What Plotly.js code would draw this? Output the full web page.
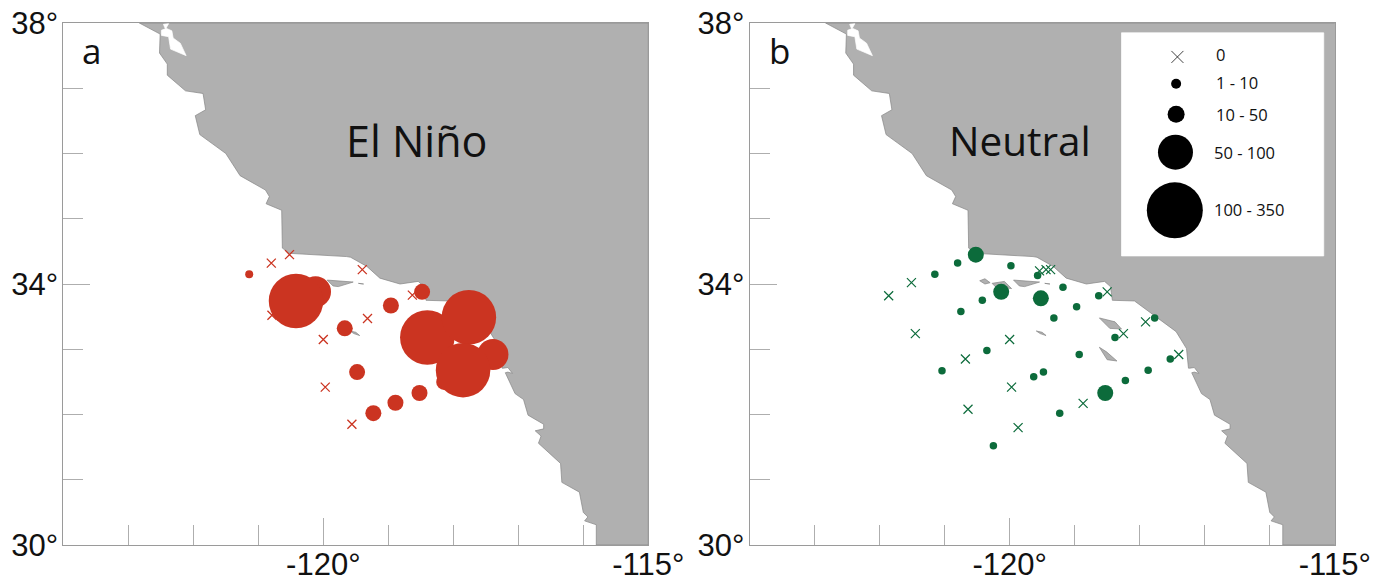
<!DOCTYPE html>
<html>
<head>
<meta charset="utf-8">
<script src="https://cdn.plot.ly/plotly-3.0.0.min.js"></script>
<style>html,body{margin:0;padding:0;background:#fff}#c{width:1385px;height:582px}</style>
</head>
<body>
<div id="c"></div>
<script>
// Land outline
const coastLon = [-122.83,-122.51,-122.52,-122.40,-122.40,-122.12,-121.85,-121.81,-121.97,-121.90,-121.50,-121.28,-120.89,-120.83,-120.88,-120.64,-120.63,-120.52,-119.64,-119.58,-119.33,-119.13,-118.82,-118.54,-118.45,-118.42,-118.08,-117.69,-117.44,-117.28,-117.25,-117.23,-117.16,-117.09,-117.16,-117.20,-117.05,-116.92,-116.85,-116.61,-116.61,-116.74,-116.65,-116.69,-116.35,-116.33,-116.06,-116.00,-115.93,-115.98,-115.80,-115.80,-115,-115,-122.83];
const coastLat = [38,37.83,37.54,37.37,37.20,36.96,36.92,36.67,36.58,36.29,36.00,35.66,35.44,35.34,35.23,35.13,34.55,34.47,34.42,34.41,34.27,34.09,34.00,34.04,33.96,33.75,33.74,33.45,33.27,33.01,32.71,32.71,32.72,32.63,32.65,32.64,32.32,32.23,31.99,31.85,31.78,31.75,31.67,31.56,31.25,30.96,30.81,30.50,30.43,30.37,30.31,30,30,38,38];
const bayLon = [-122.49,-122.43,-122.46,-122.38,-122.42,-122.33,-122.31,-122.20,-122.11,-122.35,-122.38,-122.49,-122.49];
const bayLat = [37.89,37.91,37.98,37.99,37.92,37.88,37.77,37.69,37.50,37.60,37.79,37.81,37.89];
const islandLon = [
  [-120.46,-120.38,-120.30,-120.38,-120.46],
  [-120.27,-120.08,-119.97,-120.22,-120.27],
  [-119.94,-119.54,-119.77,-119.85,-119.94],
  [-119.46,-119.38,-119.46],
  [-119.59,-119.50,-119.44,-119.53,-119.59],
  [-118.62,-118.38,-118.28,-118.46,-118.62],
  [-118.62,-118.51,-118.35,-118.50,-118.62]];
const islandLat = [
  [34.05,34.08,34.02,34.00,34.05],
  [34.01,34.04,33.93,33.96,34.01],
  [34.06,34.03,33.96,33.97,34.06],
  [34.01,34.00,34.01],
  [33.28,33.26,33.21,33.24,33.28],
  [33.48,33.42,33.31,33.32,33.48],
  [33.03,32.96,32.82,32.84,33.03]];

// El Nino stations, grouped by abundance class
const ninoZeroLon = [-120.52,-120.80,-119.40,-118.63,-119.32,-120.00,-119.97,-119.56,-120.79];
const ninoZeroLat = [34.45,34.32,34.22,33.83,33.47,33.15,32.42,31.85,33.52];
const ninoLowLon = [-121.14];
const ninoLowLat = [34.15];
const ninoMidLon = [-119.67,-118.96,-118.48,-119.48,-118.52,-118.89,-119.23,-118.14];
const ninoMidLat = [33.32,33.67,33.88,32.65,32.33,32.18,32.02,32.50];
const ninoHighLon = [-120.12,-117.39];
const ninoHighLat = [33.88,32.92];
const ninoTopLon = [-120.42,-118.40,-117.76,-117.85];
const ninoTopLat = [33.74,33.18,33.49,32.68];

// Neutral stations
const neutZeroLon = [-121.86,-121.51,-121.45,-120.68,-120.00,-119.97,-120.64,-119.87,-118.87,-119.54,-119.44,-119.37,-118.50,-118.25,-117.91,-117.40];
const neutZeroLat = [33.82,34.02,33.24,32.85,33.15,32.42,32.08,31.80,32.17,34.20,34.22,34.22,33.88,33.24,33.42,32.92];
const neutLowLon = [-121.15,-120.80,-119.98,-119.57,-119.18,-118.63,-120.42,-120.75,-118.97,-119.32,-117.77,-118.38,-120.35,-118.93,-121.04,-119.63,-119.48,-117.53,-117.87,-118.22,-119.23,-120.25];
const neutLowLat = [34.15,34.32,34.28,34.13,33.95,33.82,33.75,33.58,33.65,33.48,33.48,33.18,32.98,32.92,32.67,32.58,32.65,32.85,32.68,32.52,32.02,31.52];
const neutMidLon = [-120.52,-120.13,-119.52,-118.53];
const neutMidLat = [34.45,33.88,33.78,32.33];

// Legend
const legendLabels = ['0','1 - 10','10 - 50','50 - 100','100 - 350'];
const legendLon = [-117.42,-117.44,-117.44,-117.45,-117.46];
const legendLat = [37.48,37.07,36.60,36.02,35.13];
const legendBoxLon = [-118.28,-115.17,-115.17,-118.28,-118.28];
const legendBoxLat = [37.85,37.85,34.43,34.43,37.85];

const xTicks = [-120,-115];
const xTickText = ['-120°','-115°'];
const xMinor = [-123,-122,-121,-119,-118,-117,-116];
const yTicks = [30,34,38];
const yTickText = ['30°','34°','38°'];
const yMinor = [31,32,33,35,36,37];

const LAND='#b0b0b0', EDGE='#858585', RED='#cb3421', GREEN='#0c6b3b', AX='#9a9a9a';
const SANS='"Open Sans", sans-serif', TICKF='"Liberation Sans", Arial, sans-serif';
const W=1385, H=582;

function poly(x,y,xa,ya,fill,line){
  return {type:'scatter',mode:'lines',x:x,y:y,xaxis:xa,yaxis:ya,fill:'toself',fillcolor:fill,
    line:{color:line,width:0.7},hoverinfo:'skip'};
}
function pts(x,y,xa,ya,color,size){
  return {type:'scatter',mode:'markers',x:x,y:y,xaxis:xa,yaxis:ya,hoverinfo:'skip',
    marker:{symbol:'circle',color:color,size:size,opacity:1,line:{width:0}}};
}
function crosses(x,y,xa,ya,color,size,w){
  return {type:'scatter',mode:'markers',x:x,y:y,xaxis:xa,yaxis:ya,hoverinfo:'skip',
    marker:{symbol:'x-thin-open',color:color,size:size,opacity:1,line:{color:color,width:w}}};
}
function base(xa,ya){
  const out=[poly(coastLon,coastLat,xa,ya,LAND,EDGE),poly(bayLon,bayLat,xa,ya,'#ffffff','#ffffff')];
  islandLon.forEach((l,i)=>out.push(poly(l,islandLat[i],xa,ya,LAND,EDGE)));
  return out;
}
const data=[].concat(
  base('x','y'),
  [crosses(ninoZeroLon,ninoZeroLat,'x','y',RED,9,1.3),
   pts(ninoLowLon,ninoLowLat,'x','y',RED,8),
   pts(ninoMidLon,ninoMidLat,'x','y',RED,16),
   pts(ninoHighLon,ninoHighLat,'x','y',RED,31),
   pts(ninoTopLon,ninoTopLat,'x','y',RED,54.5)],
  base('x2','y2'),
  [crosses(neutZeroLon,neutZeroLat,'x2','y2',GREEN,9,1.2),
   pts(neutLowLon,neutLowLat,'x2','y2',GREEN,7.5),
   pts(neutMidLon,neutMidLat,'x2','y2',GREEN,16),
   poly(legendBoxLon,legendBoxLat,'x2','y2','#ffffff','#ffffff'),
   crosses(legendLon.slice(0,1),legendLat.slice(0,1),'x2','y2','#111',12,0.8),
   {type:'scatter',mode:'markers',x:legendLon.slice(1),y:legendLat.slice(1),xaxis:'x2',yaxis:'y2',hoverinfo:'skip',
    marker:{symbol:'circle',color:'#000',size:[10,17,35,56],opacity:1,line:{width:0}}}]
);

function xAxis(dom,anchor){
  return {domain:dom,anchor:anchor,range:[-124,-115],tickmode:'array',tickvals:xTicks,ticktext:xTickText,
    ticks:'inside',ticklen:27,tickwidth:0.8,tickcolor:AX,showgrid:false,zeroline:false,showline:true,mirror:true,
    linecolor:AX,linewidth:1,tickfont:{family:TICKF,size:31,color:'#111'},ticklabelstandoff:-8,
    minor:{tickmode:'array',tickvals:xMinor,ticks:'inside',ticklen:20,tickwidth:0.8,tickcolor:AX,showgrid:false}};
}
function yAxis(dom,anchor){
  return {domain:dom,anchor:anchor,range:[30,38],tickmode:'array',tickvals:yTicks,ticktext:yTickText,
    ticks:'inside',ticklen:27,tickwidth:0.8,tickcolor:AX,showgrid:false,zeroline:false,showline:true,mirror:true,
    linecolor:AX,linewidth:1,tickfont:{family:TICKF,size:31,color:'#111'},ticklabelstandoff:-2,
    minor:{tickmode:'array',tickvals:yMinor,ticks:'inside',ticklen:20,tickwidth:0.8,tickcolor:AX,showgrid:false}};
}
const yDom=[1-545/H,1-23/H];
function note(text,px,py,size,xanchor){
  return {text:text,xref:'paper',yref:'paper',x:px/W,y:1-py/H,xanchor:xanchor||'center',yanchor:'middle',
    showarrow:false,font:{family:SANS,size:size,color:'#111'}};
}
const annotations=[note('a',91.5,50,35),note('b',779,50,35),note('El Niño',416,140,43),note('Neutral',1020,140,40.5)];
const legendPy=[54,83,115,153,209];
const legendPx=[1214,1214,1214,1212,1212];
legendLabels.forEach((t,i)=>annotations.push(note(t,legendPx[i],legendPy[i],16.5,'left')));

const layout={width:W,height:H,autosize:false,showlegend:false,paper_bgcolor:'#fff',plot_bgcolor:'#fff',
  margin:{l:0,r:0,t:0,b:0},
  xaxis:xAxis([63.3/W,648.3/W],'y'),yaxis:yAxis(yDom,'x'),
  xaxis2:xAxis([749.5/W,1334.8/W],'y2'),yaxis2:yAxis(yDom,'x2'),
  annotations:annotations};
Plotly.newPlot('c',data,layout,{staticPlot:true,displayModeBar:false});
</script>
</body>
</html>
